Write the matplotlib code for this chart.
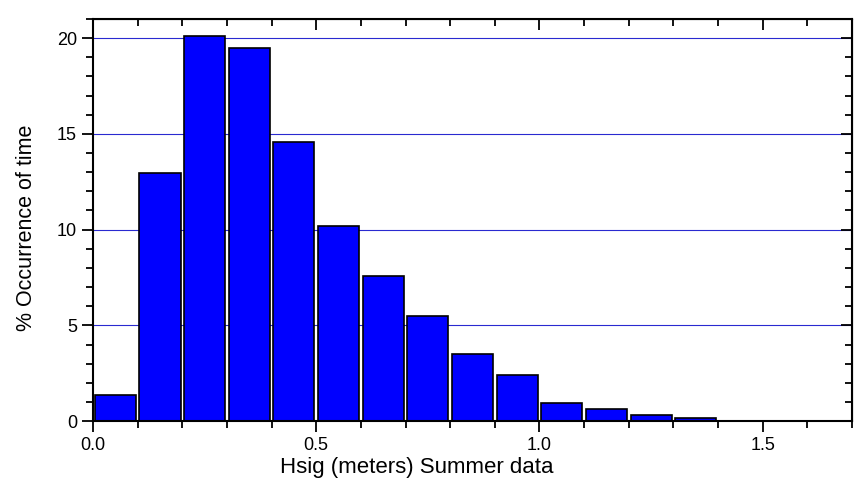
import matplotlib
matplotlib.use("Agg")
import matplotlib.pyplot as plt
from matplotlib.ticker import MultipleLocator

bin_starts = [0.0, 0.1, 0.2, 0.3, 0.4, 0.5, 0.6, 0.7, 0.8, 0.9, 1.0, 1.1, 1.2, 1.3]
pct_time = [1.34, 12.97, 20.1, 19.5, 14.6, 10.2, 7.6, 5.47, 3.49, 2.41, 0.93, 0.61, 0.3, 0.17]
bin_width = 0.1

plt.rcParams['font.family'] = ['Liberation Sans', 'DejaVu Sans']

fig = plt.figure(figsize=(8.58, 4.96), dpi=100)
ax = fig.add_axes([0.1084, 0.151, 0.8846, 0.8107])

# grid lines at major y ticks
for yv in [5, 10, 15, 20]:
    ax.axhline(yv, color='#2a2ad0', lw=0.8, zorder=0)

centers = [b + bin_width / 2 for b in bin_starts]
ax.bar(centers, pct_time, width=0.092, color='#0000ff', edgecolor='black',
       linewidth=1.2, zorder=2)

ax.set_xlim(0, 1.7)
ax.set_ylim(0, 21)
ax.xaxis.set_major_locator(MultipleLocator(0.5))
ax.xaxis.set_minor_locator(MultipleLocator(0.1))
ax.yaxis.set_major_locator(MultipleLocator(5))
ax.yaxis.set_minor_locator(MultipleLocator(1))
ax.xaxis.set_major_formatter(plt.FormatStrFormatter('%.1f'))

for s in ax.spines.values():
    s.set_linewidth(1.5)

ax.tick_params(which='both', direction='out', top=False, right=False, labelsize=13, width=1.3)
ax.tick_params(which='major', length=8)
ax.tick_params(which='minor', length=5)

# inward ticks on top and right
sec_x = ax.secondary_xaxis('top')
sec_x.xaxis.set_major_locator(MultipleLocator(0.5))
sec_x.xaxis.set_minor_locator(MultipleLocator(0.1))
sec_x.tick_params(which='both', direction='in', labeltop=False, width=1.3)
sec_x.tick_params(which='major', length=8)
sec_x.tick_params(which='minor', length=5)
sec_y = ax.secondary_yaxis('right')
sec_y.yaxis.set_major_locator(MultipleLocator(5))
sec_y.yaxis.set_minor_locator(MultipleLocator(1))
sec_y.tick_params(which='both', direction='in', labelright=False, width=1.3)
sec_y.tick_params(which='major', length=8)
sec_y.tick_params(which='minor', length=5)

ax.set_xlabel("Hsig (meters) Summer data", fontsize=16)
ax.set_ylabel("% Occurrence of time", fontsize=15.5)
ax.xaxis.set_label_coords(0.427, -0.09)
ax.yaxis.set_label_coords(-0.074, 0.48)

fig.savefig("out.png", dpi=100)
